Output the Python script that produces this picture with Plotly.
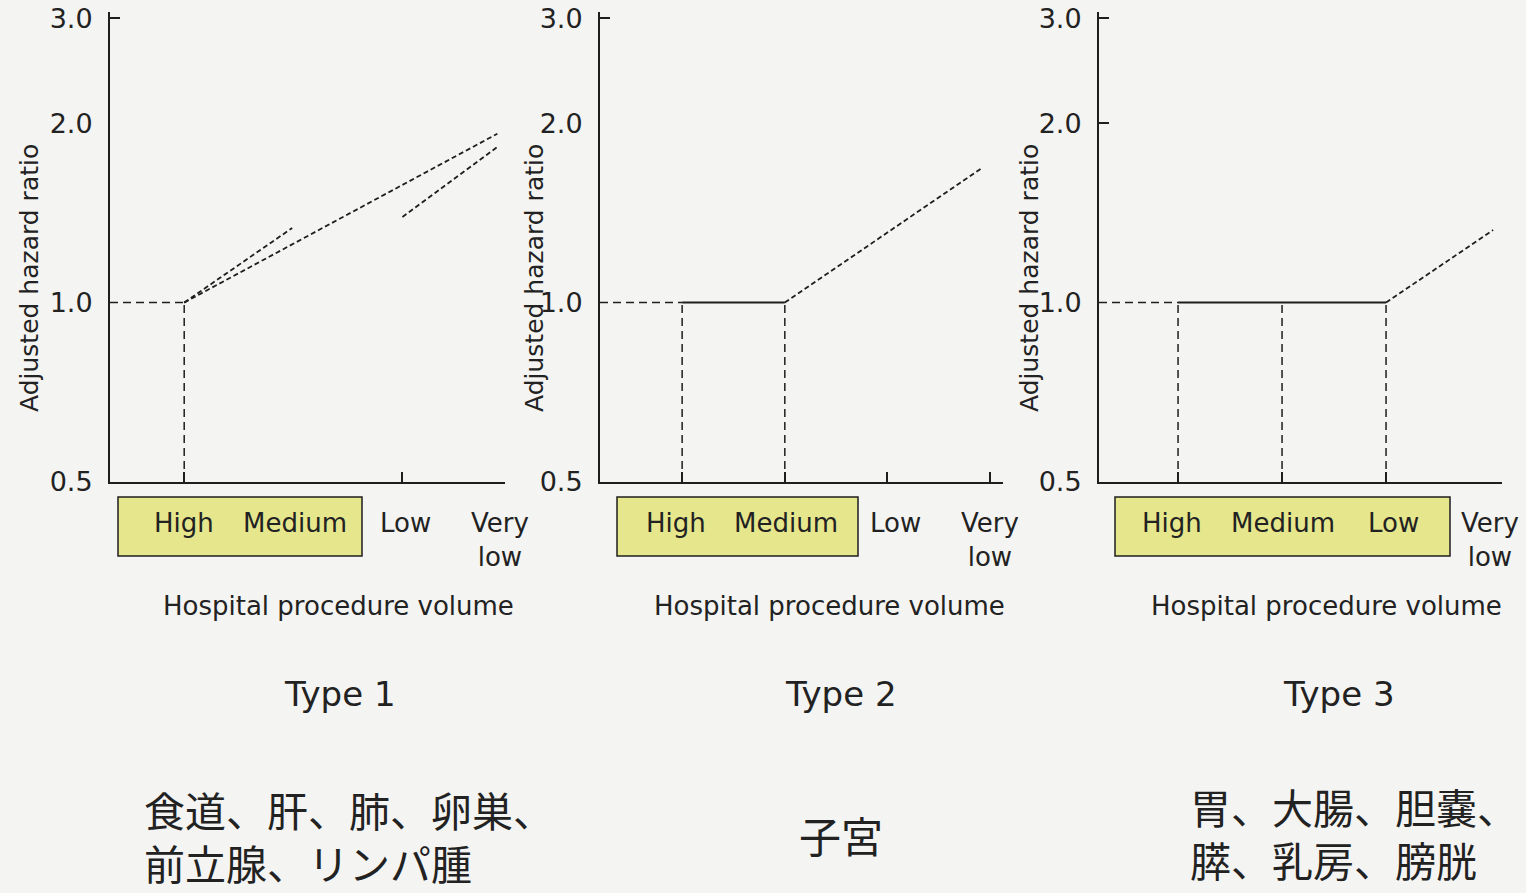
import math
import plotly.graph_objects as go

W, H = 1526, 893

# ---------------- data ----------------
categories = ["High", "Medium", "Low", "Very<br>low"]
cat_pos = [1, 2, 3, 4]
y_tick_vals = [0.5, 1.0, 2.0, 3.0]
y_tick_text = ["0.5", "1.0", "2.0", "3.0"]

# Type 1
t1_main_x = [1, 3.87]
t1_main_y = [1.0, 1.92]
t1_short_x = [1, 1.99]
t1_short_y = [1.0, 1.334]
t1_low_x = [3.0, 3.87]
t1_low_y = [1.392, 1.824]
t1_ref_x = [1]            # reference (High) drop lines

# Type 2
t2_flat_x = [1, 2]
t2_flat_y = [1.0, 1.0]
t2_slope_x = [2, 3.92]
t2_slope_y = [1.0, 1.682]
t2_ref_x = [1, 2]

# Type 3
t3_flat_x = [1, 3]
t3_flat_y = [1.0, 1.0]
t3_slope_x = [3, 4.03]
t3_slope_y = [1.0, 1.324]
t3_ref_x = [1, 2, 3]

type_titles = ["Type 1", "Type 2", "Type 3"]
organs_1 = ["食道、肝、肺、卵巣、", "前立腺、リンパ腫"]
organs_2 = ["子宮"]
organs_3 = ["胃、大腸、胆嚢、", "膵、乳房、膀胱"]
x_title = "Hospital procedure volume"
y_title = "Adjusted hazard ratio"

# ---------------- layout helpers ----------------
def px(x):
    return x / W

def py(y):
    return 1 - y / H

INK = "#1e1e1e"
TXT = "#222222"
BG = "#f4f4f2"
BOX = "#e6e68c"
FONT = "DejaVu Sans"

panels = [
    dict(left=110, right=505, xr=[0.32, 3.94], xticks=[1, 3], yticks=[3.0],
         label_x=[184, 295, 405, 500], box=(118, 362), xt=338, tt=340),
    dict(left=600, right=1003, xr=[0.2, 4.125], xticks=[1, 2, 3, 4], yticks=[3.0],
         label_x=[676, 786, 895, 990], box=(617, 858), xt=829, tt=841),
    dict(left=1099, right=1502, xr=[0.24, 4.115], xticks=[1, 2, 3], yticks=[2.0, 3.0],
         label_x=[1172, 1283, 1393, 1490], box=(1115, 1450), xt=1326, tt=1339),
]
ytitle_x = [29, 534, 1029]
plot_top, plot_bottom = 12, 482
PX_PER_DECADE = 596
y_range = [math.log10(0.5), math.log10(0.5) + (plot_bottom - plot_top) / PX_PER_DECADE]

fig = go.Figure()

def add_line(i, xs, ys, dash, width=1.5):
    suffix = "" if i == 0 else str(i + 1)
    fig.add_trace(go.Scatter(
        x=xs, y=ys, mode="lines", xaxis="x" + suffix, yaxis="y" + suffix,
        line=dict(color=INK, width=width, dash=dash),
        showlegend=False, hoverinfo="skip"))

DASH = "8px,5px"
DOT = "5px,3px"

refs = [t1_ref_x, t2_ref_x, t3_ref_x]
for i, p in enumerate(panels):
    add_line(i, [p["xr"][0], 1], [1.0, 1.0], DASH)
    for rx in refs[i]:
        add_line(i, [rx, rx], [0.5, 1.0], DASH)

add_line(0, t1_main_x, t1_main_y, DOT, 1.8)
add_line(0, t1_short_x, t1_short_y, DOT, 1.8)
add_line(0, t1_low_x, t1_low_y, DOT, 1.8)
add_line(1, t2_flat_x, t2_flat_y, "solid", 2)
add_line(1, t2_slope_x, t2_slope_y, DOT, 1.8)
add_line(2, t3_flat_x, t3_flat_y, "solid", 2)
add_line(2, t3_slope_x, t3_slope_y, DOT, 1.8)

# empty traces so the tick-only overlay axes get drawn
for i in range(3):
    suffix = "" if i == 0 else str(i + 1)
    fig.add_trace(go.Scatter(x=[None], y=[None], mode="lines",
                             xaxis="x" + suffix, yaxis="y" + str(4 + i),
                             showlegend=False, hoverinfo="skip"))

layout = dict(
    width=W, height=H, margin=dict(l=0, r=0, t=0, b=0, autoexpand=False),
    paper_bgcolor=BG, plot_bgcolor=BG, showlegend=False,
    font=dict(family=FONT, color=TXT),
)
shapes = []
annotations = []
for i, p in enumerate(panels):
    suffix = "" if i == 0 else str(i + 1)
    layout["xaxis" + suffix] = dict(
        domain=[px(p["left"]), px(p["right"])], range=p["xr"],
        anchor="y" + suffix, showgrid=False, zeroline=False, automargin=False,
        showline=True, linecolor=INK, linewidth=2,
        tickmode="array", tickvals=p["xticks"], ticks="inside",
        ticklen=10, tickwidth=2, tickcolor=INK, showticklabels=False,
    )
    layout["yaxis" + suffix] = dict(
        domain=[py(plot_bottom), py(plot_top)], range=y_range, type="log",
        anchor="x" + suffix, showgrid=False, zeroline=False, automargin=False,
        showline=True, linecolor=INK, linewidth=2,
        tickmode="array", tickvals=y_tick_vals, ticktext=y_tick_text,
        ticks="", tickfont=dict(family=FONT, size=27, color=TXT),
        ticklabelstandoff=10, ticklabeloverflow="allow",
    )
    layout["yaxis" + str(4 + i)] = dict(
        domain=[py(plot_bottom), py(plot_top)], range=y_range, type="log",
        anchor="x" + suffix, overlaying="y" + suffix, side="left",
        showgrid=False, zeroline=False, showline=False, automargin=False,
        tickmode="array", tickvals=p["yticks"], ticks="inside",
        ticklen=10, tickwidth=2, tickcolor=INK, showticklabels=False,
    )
    b0, b1 = p["box"]
    shapes.append(dict(type="rect", xref="paper", yref="paper",
                       x0=px(b0), x1=px(b1), y0=py(556), y1=py(497),
                       fillcolor=BOX, line=dict(color=INK, width=1.5),
                       layer="below"))
    for cat, lx in zip(categories, p["label_x"]):
        yy = 523 if "<br>" not in cat else 540
        annotations.append(dict(text=cat, xref="paper", yref="paper",
                                x=px(lx), y=py(yy), showarrow=False,
                                xanchor="center", yanchor="middle",
                                font=dict(size=26, family=FONT, color=TXT)))
    annotations.append(dict(text=x_title, xref="paper", yref="paper",
                            x=px(p["xt"]), y=py(606), showarrow=False,
                            xanchor="center", yanchor="middle",
                            font=dict(size=26, family=FONT, color=TXT)))
    annotations.append(dict(text=y_title, xref="paper", yref="paper",
                            x=px(ytitle_x[i]), y=py(278), showarrow=False,
                            textangle=-90, xanchor="center", yanchor="middle",
                            font=dict(size=25, family=FONT, color=TXT)))
    annotations.append(dict(text=type_titles[i], xref="paper", yref="paper",
                            x=px(p["tt"]), y=py(694), showarrow=False,
                            xanchor="center", yanchor="middle",
                            font=dict(size=34, family=FONT, color=TXT)))

CJK = "Noto Sans CJK JP"
annotations.append(dict(text="<br>".join(organs_1), xref="paper", yref="paper",
                        x=px(142), y=py(835), showarrow=False, align="left",
                        xanchor="left", yanchor="middle",
                        font=dict(size=41, family=CJK, color=TXT)))
annotations.append(dict(text=organs_2[0], xref="paper", yref="paper",
                        x=px(841), y=py(834), showarrow=False,
                        xanchor="center", yanchor="middle",
                        font=dict(size=42, family=CJK, color=TXT)))
annotations.append(dict(text="<br>".join(organs_3), xref="paper", yref="paper",
                        x=px(1188), y=py(832), showarrow=False, align="left",
                        xanchor="left", yanchor="middle",
                        font=dict(size=41, family=CJK, color=TXT)))

layout["shapes"] = shapes
layout["annotations"] = annotations
fig.update_layout(**layout)
fig.write_html("out.html", config={"displayModeBar": False},
               post_script="document.body.style.margin='0px';document.body.style.background='" + BG + "';")
